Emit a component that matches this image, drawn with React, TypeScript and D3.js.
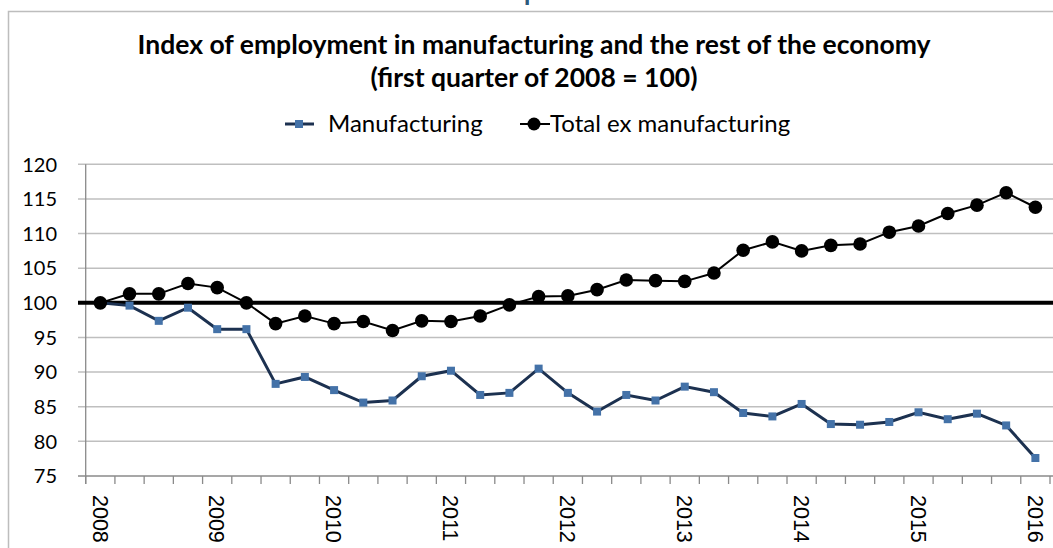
import * as d3 from "d3";

// quarterly, 2008Q1 .. 2016Q1
const quarters: string[] = [];
for (let y = 2008; y <= 2016; y++) {
  for (let q = 1; q <= 4; q++) {
    if (y === 2016 && q > 1) break;
    quarters.push(`${y}Q${q}`);
  }
}

const manufacturing = [
  100, 99.6, 97.4, 99.3, 96.2, 96.2, 88.3, 89.3, 87.4, 85.6, 85.9, 89.4, 90.2,
  86.7, 87.0, 90.5, 87.0, 84.3, 86.7, 85.9, 87.9, 87.1, 84.1, 83.6, 85.4, 82.5,
  82.4, 82.8, 84.2, 83.2, 84.0, 82.3, 77.6,
];

const totalExManufacturing = [
  100, 101.3, 101.3, 102.8, 102.2, 100.0, 97.0, 98.1, 97.0, 97.3, 96.0, 97.4,
  97.3, 98.1, 99.7, 100.9, 101.0, 101.9, 103.3, 103.2, 103.1, 104.3, 107.6,
  108.8, 107.5, 108.3, 108.5, 110.2, 111.1, 112.9, 114.1, 115.9, 113.8,
];

const yTicks = [75, 80, 85, 90, 95, 100, 105, 110, 115, 120];

const titleLines = [
  "Index of employment in manufacturing and the rest of the economy",
  "(first quarter of 2008 = 100)",
];

const W = 1053;
const H = 548;

export default function App() {
  const x = d3
    .scaleBand<string>()
    .domain(quarters)
    .range([85.7, 1050])
    .paddingInner(0)
    .paddingOuter(0);
  const y = d3.scaleLinear().domain([75, 120]).range([476, 164.3]);
  const cx = (q: string) => (x(q) || 0) + x.bandwidth() / 2;

  const line = d3
    .line<number>()
    .x((_, i) => cx(quarters[i]))
    .y((d) => y(d));

  const gridColor = "#bfbfbf";
  const axisColor = "#8a8a8a";
  const navy = "#1c3150";
  const blue = "#4472a8";

  const boundaries = quarters.map((q) => x(q) || 0).concat([x.range()[1]]);

  return (
    <svg
      width={W}
      height={H}
      style={{ position: "absolute", left: 0, top: 0, background: "#fff" }}
    >
      {/* text cut off at the top edge, as in the source */}
      <text
        x={533}
        y={-1}
        fontFamily="Lato"
        fontSize={36}
        fill="#2d5a7b"
        textAnchor="middle"
      >
        p
      </text>

      {/* chart area border */}
      <path
        d={`M8.5,${H} V11.5 H${W}`}
        fill="none"
        stroke="#bdbdbd"
        strokeWidth={1.5}
      />

      {/* title */}
      {titleLines.map((t, i) => (
        <text
          key={i}
          x={534}
          y={54 + i * 33}
          textAnchor="middle"
          fontFamily="Lato"
          fontWeight={700}
          fontSize={26.5}
          fill="#000"
        >
          {t}
        </text>
      ))}

      {/* legend */}
      <g>
        <line x1={285} x2={314} y1={124} y2={124} stroke={navy} strokeWidth={3} />
        <rect x={295} y={120} width={8} height={8} fill={blue} />
        <text x={328} y={132} fontFamily="Lato" fontSize={24} fill="#000">
          Manufacturing
        </text>
        <line x1={520} x2={550} y1={124} y2={124} stroke="#000" strokeWidth={2} />
        <circle cx={534} cy={124} r={6.5} fill="#000" />
        <text x={550} y={132} fontFamily="Lato" fontSize={24} fill="#000">
          Total ex manufacturing
        </text>
      </g>

      {/* gridlines */}
      {yTicks.map((t) => (
        <line
          key={t}
          x1={78}
          x2={W}
          y1={y(t)}
          y2={y(t)}
          stroke={t === 75 ? axisColor : gridColor}
          strokeWidth={1.5}
        />
      ))}

      {/* y axis */}
      <line x1={85.7} x2={85.7} y1={y(120)} y2={484} stroke={axisColor} strokeWidth={1.3} />
      {yTicks.map((t) => (
        <text
          key={t}
          x={57}
          y={y(t)}
          dy="0.36em"
          textAnchor="end"
          fontFamily="Lato"
          fontSize={20}
          fill="#000"
        >
          {t}
        </text>
      ))}

      {/* x ticks */}
      {boundaries.map((b, i) => (
        <line key={i} x1={b} x2={b} y1={476} y2={484} stroke={axisColor} strokeWidth={1.3} />
      ))}
      {quarters.map((q, i) =>
        i % 4 === 0 ? (
          <text
            key={q}
            transform={`translate(${cx(q)},495) rotate(90)`}
            dy="0.36em"
            fontFamily="Liberation Sans"
            fontSize={21.5}
            fill="#000"
          >
            {q.slice(0, 4)}
          </text>
        ) : null
      )}

      {/* baseline 100 */}
      <line x1={78} x2={W} y1={y(100)} y2={y(100)} stroke="#000" strokeWidth={4} />

      {/* manufacturing */}
      <path d={line(manufacturing) || ""} fill="none" stroke={navy} strokeWidth={3} />
      {manufacturing.map((v, i) => (
        <rect
          key={i}
          x={cx(quarters[i]) - 4}
          y={y(v) - 4}
          width={8}
          height={8}
          fill={blue}
        />
      ))}

      {/* total ex manufacturing */}
      <path d={line(totalExManufacturing) || ""} fill="none" stroke="#000" strokeWidth={2} />
      {totalExManufacturing.map((v, i) => (
        <circle key={i} cx={cx(quarters[i])} cy={y(v)} r={6.8} fill="#000" />
      ))}
    </svg>
  );
}
